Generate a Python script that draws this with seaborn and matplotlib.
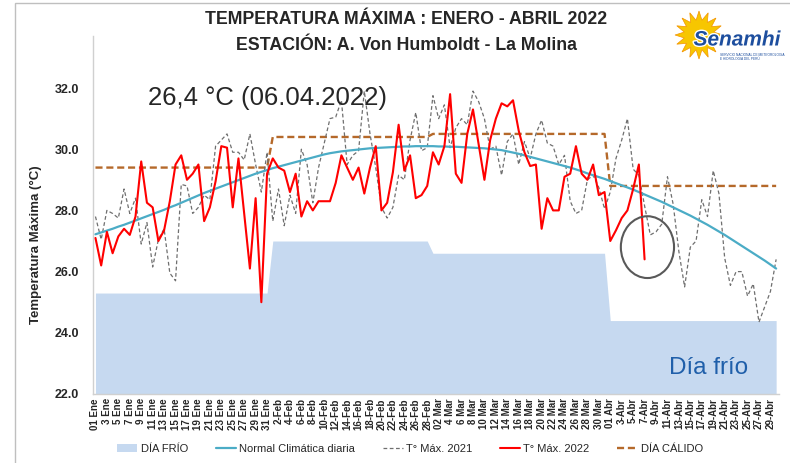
import numpy as np
import pandas as pd
import matplotlib
matplotlib.use("Agg")
import matplotlib.pyplot as plt
import matplotlib.patheffects as pe
from matplotlib.patches import Ellipse, Patch, Polygon, Rectangle
from matplotlib.lines import Line2D
import seaborn as sns

# --- datos ---
dias_mes = [31, 28, 31, 30]
frio_mes = [25.3, 27.0, 26.6, 24.4]
calido_mes = [29.4, 30.4, 30.5, 28.8]

tmax_2022 = [27.1, 26.2, 27.3, 26.6, 27.15, 27.4, 27.2, 27.8, 29.6, 28.25,
             28.1, 27.0, 27.35, 28.3, 29.5, 29.8, 29.0, 29.2, 29.5, 27.65,
             28.1, 28.95, 30.1, 30.05, 28.1, 29.7, 27.9, 26.1, 28.4, 25.0,
             29.2, 29.7, 29.4, 29.3, 28.6, 29.2, 27.8, 28.3, 28.0, 28.3,
             28.3, 28.3, 28.9, 29.8, 29.4, 29.0, 29.4, 28.55, 29.4, 30.1,
             28.0, 28.25, 29.25, 30.8, 29.3, 29.8, 28.4, 28.5, 28.8, 29.9,
             29.5, 30.1, 31.8, 29.2, 28.9, 30.5, 31.3, 30.15, 29.0, 30.3,
             31.0, 31.5, 31.4, 31.6, 30.6, 29.9, 29.45, 29.5, 27.4, 28.4,
             28.0, 28.0, 29.1, 29.2, 30.1, 29.2, 29.0, 29.5, 28.5, 28.6,
             27.0, 27.35, 27.75, 28.0, 28.7, 29.5, 26.4]

tmax_2021 = [27.8, 27.05, 28.0, 27.9, 27.75, 28.7, 27.9, 28.4, 26.9, 27.6,
             26.15, 27.05, 27.4, 25.95, 25.7, 28.85, 28.8, 27.9, 28.1, 28.5,
             28.35, 30.1, 30.3, 30.5, 29.9, 29.9, 29.65, 30.5, 29.5, 28.6,
             29.9, 27.65, 28.7, 27.5, 28.5, 27.9, 30.0, 29.5, 28.25, 29.4,
             30.2, 31.0, 31.05, 31.6, 29.5, 29.8, 29.95, 31.9, 30.5, 29.4,
             28.1, 27.75, 28.1, 29.15, 29.0, 30.3, 31.2, 29.95, 30.05, 31.75,
             31.0, 31.45, 30.05, 30.7, 31.0, 30.8, 31.9, 31.55, 31.0, 30.0,
             30.1, 29.15, 30.25, 30.5, 29.5, 30.25, 29.7, 30.5, 30.95, 30.2,
             30.1, 29.5, 29.8, 28.3, 27.9, 28.0, 29.0, 29.15, 28.75, 28.05,
             28.6, 29.7, 30.3, 31.0, 29.35, 29.15, 28.15, 27.2, 27.3, 27.55,
             29.1, 28.2, 26.65, 25.5, 26.8, 27.0, 28.35, 27.8, 29.3, 28.55,
             26.45, 25.55, 26.0, 26.0, 25.2, 25.6, 24.35, 24.85, 25.35, 26.4]

normal = [27.22, 27.28, 27.34, 27.40, 27.47, 27.53, 27.60, 27.67, 27.74, 27.81,
          27.88, 27.95, 28.02, 28.10, 28.17, 28.25, 28.33, 28.41, 28.49, 28.57,
          28.64, 28.71, 28.78, 28.85, 28.92, 28.99, 29.06, 29.13, 29.20, 29.26,
          29.32, 29.38, 29.43, 29.48, 29.53, 29.58, 29.63, 29.68, 29.73, 29.78,
          29.83, 29.87, 29.90, 29.93, 29.95, 29.97, 29.99, 30.01, 30.03, 30.04,
          30.05, 30.06, 30.07, 30.08, 30.09, 30.09, 30.10, 30.10, 30.10, 30.10,
          30.09, 30.09, 30.08, 30.08, 30.07, 30.06, 30.05, 30.04, 30.03, 30.01,
          29.99, 29.97, 29.93, 29.89, 29.85, 29.80, 29.75, 29.70, 29.65, 29.60,
          29.55, 29.50, 29.45, 29.40, 29.34, 29.28, 29.21, 29.15, 29.09, 29.03,
          28.96, 28.89, 28.82, 28.75, 28.68, 28.60, 28.52, 28.44, 28.36, 28.28,
          28.19, 28.10, 28.01, 27.92, 27.83, 27.73, 27.63, 27.53, 27.42, 27.31,
          27.20, 27.08, 26.96, 26.84, 26.72, 26.60, 26.48, 26.36, 26.23, 26.10]

etiquetas = ["01 Ene", "3 Ene", "5 Ene", "7 Ene", "9 Ene", "11 Ene", "13 Ene", "15 Ene",
             "17 Ene", "19 Ene", "21 Ene", "23 Ene", "25 Ene", "27 Ene", "29 Ene", "31 Ene",
             "2-Feb", "4-Feb", "6-Feb", "8-Feb", "10-Feb", "12-Feb", "14-Feb", "16-Feb",
             "18-Feb", "20-Feb", "22-Feb", "24-Feb", "26-Feb", "28-Feb",
             "02 Mar", "4 Mar", "6 Mar", "8 Mar", "10 Mar", "12 Mar", "14 Mar", "16 Mar",
             "18 Mar", "20 Mar", "22 Mar", "24 Mar", "26 Mar", "28 Mar", "30 Mar",
             "01 Abr", "3-Abr", "5-Abr", "7-Abr", "9-Abr", "11-Abr", "13-Abr", "15-Abr",
             "17-Abr", "19-Abr", "21-Abr", "23-Abr", "25-Abr", "27-Abr", "29-Abr"]

yticks = [22, 24, 26, 28, 30, 32]

n = sum(dias_mes)
dia = np.arange(n)
df = pd.DataFrame({
    "dia": dia,
    "normal": normal,
    "t2021": tmax_2021,
    "frio": np.repeat(frio_mes, dias_mes),
    "calido": np.repeat(calido_mes, dias_mes),
})
df22 = pd.DataFrame({"dia": dia[:len(tmax_2022)], "t2022": tmax_2022})

# colores
c_frio = "#C6D9F0"
c_normal = "#4BACC6"
c_2021 = "#6F6F6F"
c_2022 = "#FF0000"
c_calido = "#B5692A"

sns.set_style("white")
plt.rcParams["font.family"] = ["Liberation Sans", "DejaVu Sans"]

W, H = 790, 463
fig = plt.figure(figsize=(W / 100, H / 100), dpi=100)
ax = fig.add_axes([92.6 / W, 1 - 394 / H, (779 - 92.6) / W, (394 - 36) / H])

ax.fill_between(df["dia"], 22, df["frio"], color=c_frio, lw=0, zorder=1)
sns.lineplot(data=df, x="dia", y="calido", ax=ax, color=c_calido, lw=1.7,
             linestyle=(0, (3, 1.6)), zorder=2)
sns.lineplot(data=df, x="dia", y="t2021", ax=ax, color=c_2021, lw=0.9,
             linestyle=(0, (3, 2)), zorder=3)
sns.lineplot(data=df, x="dia", y="normal", ax=ax, color=c_normal, lw=1.6, zorder=4)
sns.lineplot(data=df22, x="dia", y="t2022", ax=ax, color=c_2022, lw=1.5, zorder=5)

ax.set_xlim(-0.5, n - 0.5)
ax.set_ylim(22, 33.7)
ax.set_yticks(yticks)
ax.set_yticklabels([f"{v:.1f}" for v in yticks], fontsize=9, fontweight="bold")
ax.set_xticks(dia[::2])
ax.set_xticklabels(etiquetas, rotation=90, fontsize=7, fontweight="bold")
ax.tick_params(axis="y", length=0, pad=9.8)
ax.tick_params(axis="x", length=0, pad=3)
ax.set_xlabel("")
ax.set_ylabel("")
for s in ["top", "right"]:
    ax.spines[s].set_visible(False)
for s in ["left", "bottom"]:
    ax.spines[s].set_color("#D0D0D0")
    ax.spines[s].set_linewidth(1)

# anotaciones
ax.text(9.2, 31.69, "26,4 °C (06.04.2022)", fontsize=18.5, va="center", ha="left", zorder=6)
ax.add_patch(Ellipse((96.5, 26.8), 9.3, 2.02, fill=False, edgecolor="#595959", lw=1.5, zorder=6))
ax.text(100.3, 22.85, "Día frío", fontsize=17.5, color="#1F5FAA", va="center", ha="left",
        zorder=6)

fig.text(36 / W, 1 - 245 / H, "Temperatura Máxima (°C)", rotation=90, fontsize=9.5,
         fontweight="bold", ha="center", va="center")

# titulo
fig.text(406 / W, 1 - 20 / H, "TEMPERATURA MÁXIMA : ENERO - ABRIL 2022", fontsize=12.8,
         fontweight="bold", ha="center", va="center")
fig.text(407 / W, 1 - 45 / H, "ESTACIÓN: A. Von Humboldt - La Molina", fontsize=12.8,
         fontweight="bold", ha="center", va="center")

# logo
cx, cy = 699, 35
ang = np.linspace(0, 2 * np.pi, 33)[:-1]
rad = np.where(np.arange(32) % 2 == 0, 24, 15)
pts = np.column_stack([(cx + rad * np.cos(ang)) / W, 1 - (cy + rad * np.sin(ang)) / H])
fig.add_artist(Polygon(pts, closed=True, transform=fig.transFigure, facecolor="#F7C600",
                       edgecolor="#F39200", lw=0.5))
fig.text(737 / W, 1 - 40 / H, "Senamhi", fontsize=15, fontweight="bold", style="italic",
         color="#1D4E9E", ha="center", va="center",
         path_effects=[pe.withStroke(linewidth=2, foreground="white")])
fig.text(720 / W, 1 - 57 / H, "SERVICIO NACIONAL DE METEOROLOGÍA\nE HIDROLOGÍA DEL PERÚ",
         fontsize=2.3, color="#1D4E9E", ha="left", va="center", linespacing=1.1)

# marco
fig.add_artist(Rectangle((15 / W, -0.1), 1.2, 1.1 - 3 / H, transform=fig.transFigure,
                         fill=False, edgecolor="#BFBFBF", lw=1))

# leyenda
handles = [
    Patch(facecolor=c_frio, edgecolor="none", label="DÍA FRÍO"),
    Line2D([], [], color=c_normal, lw=1.6, label="Normal Climática diaria"),
    Line2D([], [], color=c_2021, lw=0.9, linestyle=(0, (3, 2)), label="T° Máx. 2021"),
    Line2D([], [], color=c_2022, lw=1.5, label="T° Máx. 2022"),
    Line2D([], [], color=c_calido, lw=1.7, linestyle=(0, (3, 1.6)), label="DÍA CÁLIDO"),
]
fig.legend(handles=handles, loc="center", bbox_to_anchor=(410 / W, 1 - 449 / H), ncol=5,
           frameon=False, fontsize=8, handlelength=1.8, columnspacing=2.5, handletextpad=0.3)

fig.savefig("out.png", dpi=100)
